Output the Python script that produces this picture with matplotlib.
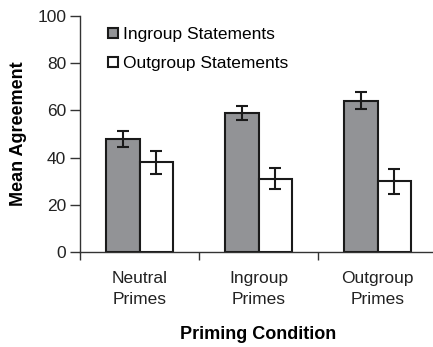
import numpy as np
import matplotlib
matplotlib.use("Agg")
import matplotlib.pyplot as plt

plt.rcParams['font.family'] = ['Liberation Sans', 'DejaVu Sans']

# data
conditions = ["Neutral\nPrimes", "Ingroup\nPrimes", "Outgroup\nPrimes"]
ingroup_mean = [48, 59, 64]
ingroup_err = [3.3, 3.0, 3.6]
outgroup_mean = [38, 31, 30]
outgroup_err = [4.8, 4.5, 5.3]

fig = plt.figure(figsize=(4.33, 3.47), dpi=100)
ax = fig.add_axes([0.1848, 0.2738, 0.8245, 0.68])

x = np.arange(len(conditions)) + 0.5
w = 0.285
ebar = dict(ecolor='#1a1a1a', elinewidth=1.5, capsize=4, capthick=1.5)
ax.bar(x - w / 2, ingroup_mean, w, yerr=ingroup_err, color='#929396',
       edgecolor='#1a1a1a', linewidth=1.5, error_kw=ebar, label='Ingroup Statements')
ax.bar(x + w / 2, outgroup_mean, w, yerr=outgroup_err, color='white',
       edgecolor='#1a1a1a', linewidth=1.5, error_kw=ebar, label='Outgroup Statements')

ax.set_xlim(0, 3)
ax.set_ylim(0, 100)
ax.set_yticks(range(0, 101, 20))
ax.set_xticks([0, 1, 2, 3])
ax.set_xticklabels([])
ax.set_xticks(x, minor=True)
ax.set_xticklabels(conditions, minor=True, fontsize=12.5, color='#222222',
                   linespacing=1.45)
ax.tick_params(axis='x', which='minor', length=0, pad=14)
ax.tick_params(axis='x', which='major', length=6, width=1, color='#333333')
ax.tick_params(axis='y', length=7, width=1, color='#333333', labelsize=12.5,
               labelcolor='#222222', pad=3)

for s in ('top', 'right'):
    ax.spines[s].set_visible(False)
for s in ('left', 'bottom'):
    ax.spines[s].set_color('#333333')
    ax.spines[s].set_linewidth(1)

ax.set_ylabel('Mean Agreement', fontsize=13, fontweight='bold', labelpad=7)
ax.set_xlabel('Priming Condition', fontsize=13, fontweight='bold', labelpad=14)

ax.legend(loc='upper left', bbox_to_anchor=(0.045, 1.005), frameon=False,
          fontsize=12.5, handlelength=0.55, handleheight=0.55, handletextpad=0.3,
          labelspacing=0.8, borderpad=0.2)

fig.savefig('out.png', dpi=100)
